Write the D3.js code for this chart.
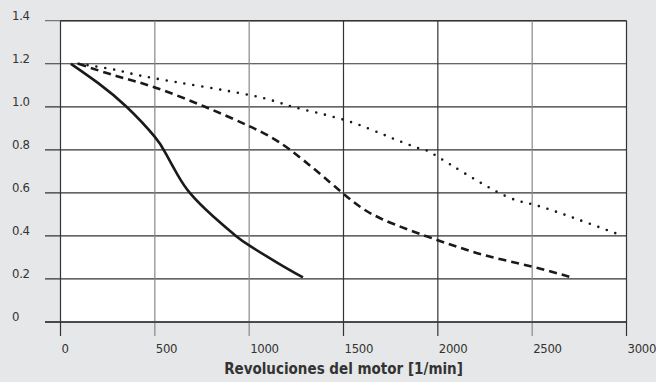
<!DOCTYPE html>
<html>
<head>
<meta charset="utf-8">
<script src="https://cdn.jsdelivr.net/npm/d3@7"></script>
<style>
  body { margin: 0; background: #e6e7e8; }
  svg { display: block; }
  .tick-label { font-family: "DejaVu Sans Condensed", "DejaVu Sans", sans-serif; font-stretch: condensed; font-size: 13px; fill: #333; letter-spacing: -0.3px; }
  .xText { font-family: "DejaVu Sans Condensed", "DejaVu Sans", sans-serif; font-stretch: condensed; font-weight: bold; font-size: 15px; fill: #333; }
</style>
</head>
<body>
<div id="chart"></div>
<script>
// curve data: [revolutions, value]
var solidData = [[55,1.2],[200,1.11],[350,1.0],[500,0.86],[560,0.78],[620,0.685],[690,0.595],[810,0.49],[930,0.4],[1000,0.356],[1150,0.275],[1285,0.207]];
var dashedData = [[95,1.2],[300,1.142],[500,1.09],[766,1.0],[1000,0.91],[1217,0.8],[1494,0.6],[1700,0.48],[2000,0.38],[2250,0.31],[2500,0.257],[2700,0.21]];
var dottedData = [[95,1.2],[300,1.17],[500,1.132],[1000,1.055],[1231,1.0],[1500,0.94],[1750,0.857],[1924,0.8],[2000,0.768],[2313,0.605],[2500,0.547],[2700,0.49],[2950,0.41]];

var xTicks = [0, 500, 1000, 1500, 2000, 2500, 3000];
var yTicks = [0, 0.2, 0.4, 0.6, 0.8, 1.0, 1.2, 1.4];
var yLabels = ["0", "0.2", "0.4", "0.6", "0.8", "1.0", "1.2", "1.4"];

var W = 656, H = 382;
var svg = d3.select('#chart').append('svg').attr('width', W).attr('height', H);

var x = d3.scaleLinear().domain([0, 3000]).range([60.5, 626.5]);
var y = d3.scaleLinear().domain([0, 1.4]).range([322, 20.7]);

// plot background
svg.append('rect')
  .attr('x', x(0)).attr('y', y(1.4))
  .attr('width', x(3000) - x(0)).attr('height', y(0) - y(1.4))
  .attr('fill', '#fff');

// horizontal grid lines (extend left as ticks)
svg.selectAll('.hgrid').data(yTicks).enter().append('line')
  .attr('x1', 45).attr('x2', x(3000))
  .attr('y1', function(d) { return y(d); }).attr('y2', function(d) { return y(d); })
  .attr('stroke', function(d) { return d === 1.4 ? '#777' : '#333'; })
  .attr('stroke-width', 1.2);

// top border over the plot
svg.append('line')
  .attr('x1', x(0)).attr('x2', x(3000)).attr('y1', y(1.4)).attr('y2', y(1.4))
  .attr('stroke', '#333').attr('stroke-width', 1.4);

// vertical grid lines (extend below as ticks)
svg.selectAll('.vgrid').data(xTicks).enter().append('line')
  .attr('x1', function(d) { return x(d); }).attr('x2', function(d) { return x(d); })
  .attr('y1', y(1.4)).attr('y2', 336)
  .attr('stroke', function(d) { return (d === 0 || d === 1500 || d === 2000 || d === 3000) ? '#333' : '#888'; })
  .attr('stroke-width', 1.2);

// bottom axis line
svg.append('line')
  .attr('x1', 45).attr('x2', x(3000)).attr('y1', y(0)).attr('y2', y(0))
  .attr('stroke', '#333').attr('stroke-width', 1.6);

// y labels
svg.selectAll('.ylab').data(yTicks).enter().append('text')
  .attr('class', 'tick-label')
  .attr('x', 12)
  .attr('y', function(d) { return y(d) - 1; })
  .text(function(d, i) { return yLabels[i]; });

// x labels
svg.selectAll('.xlab').data(xTicks).enter().append('text')
  .attr('class', 'tick-label')
  .attr('x', function(d) { return x(d) + 1; })
  .attr('y', 353)
  .text(function(d) { return d; });

svg.append('text')
  .attr('class', 'xText')
  .attr('x', (x(0) + x(3000)) / 2)
  .attr('y', 374)
  .style('text-anchor', 'middle')
  .text('Revoluciones del motor [1/min]');

var line = d3.line()
  .x(function(d) { return x(d[0]); })
  .y(function(d) { return y(d[1]); })
  .curve(d3.curveNatural);

svg.append('path').attr('d', line(solidData))
  .attr('fill', 'none').attr('stroke', '#1a1a1a').attr('stroke-width', 2.6);

svg.append('path').attr('d', line(dashedData))
  .attr('fill', 'none').attr('stroke', '#1a1a1a').attr('stroke-width', 2.6)
  .attr('stroke-dasharray', '8,5');

svg.append('path').attr('d', line(dottedData))
  .attr('fill', 'none').attr('stroke', '#1a1a1a').attr('stroke-width', 2.6)
  .attr('stroke-linecap', 'round')
  .attr('stroke-dasharray', '0,9');
</script>
</body>
</html>
